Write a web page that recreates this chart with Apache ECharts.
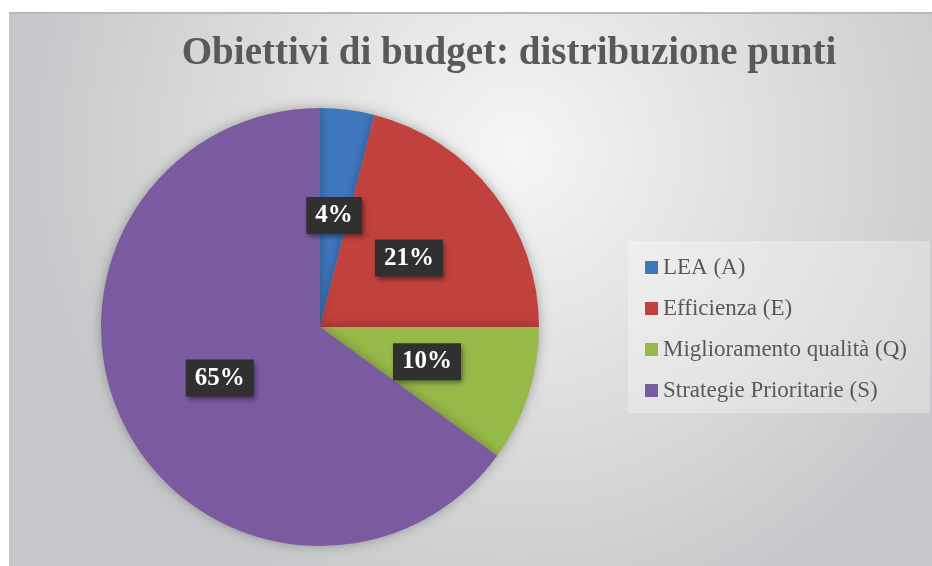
<!DOCTYPE html>
<html>
<head>
<meta charset="utf-8">
<script src="https://cdn.jsdelivr.net/npm/echarts@6/dist/echarts.min.js"></script>
<style>
  html, body { margin: 0; padding: 0; background: #fff; }
  #main { width: 932px; height: 566px; }
</style>
</head>
<body>
<div id="main"></div>
<script>
const categories = ["LEA (A)", "Efficienza (E)", "Miglioramento qualità (Q)", "Strategie Prioritarie (S)"];
const values = [4, 21, 10, 65];
const colors = ["#3f77bf", "#c0413d", "#97b948", "#7b5ba0"];

const serif = "'Liberation Serif', 'DejaVu Serif', serif";

const pieData = categories.map((name, i) => ({
  name,
  value: values[i],
  itemStyle: { color: colors[i] },
}));

const myChart = echarts.init(document.getElementById("main"));

myChart.setOption({
  animation: false,
  graphic: [
    {
      type: "rect",
      z: -10,
      shape: { x: 9, y: 12, width: 923, height: 554 },
      style: {
        fill: new echarts.graphic.RadialGradient(0.55, 0.25, 0.9, [
          { offset: 0, color: "#f5f5f5" },
          { offset: 0.55, color: "#dcdcdc" },
          { offset: 1, color: "#c6c7ca" },
        ]),
      },
    },
    {
      type: "rect",
      z: -9,
      shape: { x: 9, y: 12, width: 923, height: 2 },
      style: { fill: "#b9b9b9" },
    },
    {
      type: "rect",
      z: -9,
      shape: { x: 628, y: 241, width: 302, height: 172 },
      style: { fill: "rgba(255,255,255,0.3)" },
    },
    {
      type: "text",
      z: 10,
      style: {
        x: 509,
        y: 54,
        text: "Obiettivi di budget: distribuzione punti",
        fill: "#595959",
        font: "bold 39px " + serif,
        align: "center",
        verticalAlign: "middle",
      },
    },
  ],
  legend: {
    orient: "vertical",
    left: 640,
    top: 251,
    itemWidth: 13,
    itemHeight: 13,
    itemGap: 18,
    icon: "rect",
    data: categories,
    textStyle: {
      color: "#595959",
      fontFamily: serif,
      fontSize: 23,
      lineHeight: 23,
    },
  },
  series: [
    {
      type: "pie",
      center: [320, 327],
      radius: 219,
      startAngle: 90,
      clockwise: true,
      data: pieData,
      itemStyle: {
        shadowBlur: 12,
        shadowColor: "rgba(0,0,0,0.3)",
      },
      label: {
        show: true,
        position: "inside",
        formatter: (p) => p.value + "%",
        color: "#fff",
        fontFamily: serif,
        fontWeight: "bold",
        fontSize: 25,
        backgroundColor: "#303030",
        padding: [7, 9, 5, 9],
        shadowColor: "rgba(0,0,0,0.45)",
        shadowBlur: 5,
        shadowOffsetX: 2,
        shadowOffsetY: 3,
      },
      labelLine: { show: false },
      emphasis: { disabled: true },
    },
  ],
});
</script>
</body>
</html>
